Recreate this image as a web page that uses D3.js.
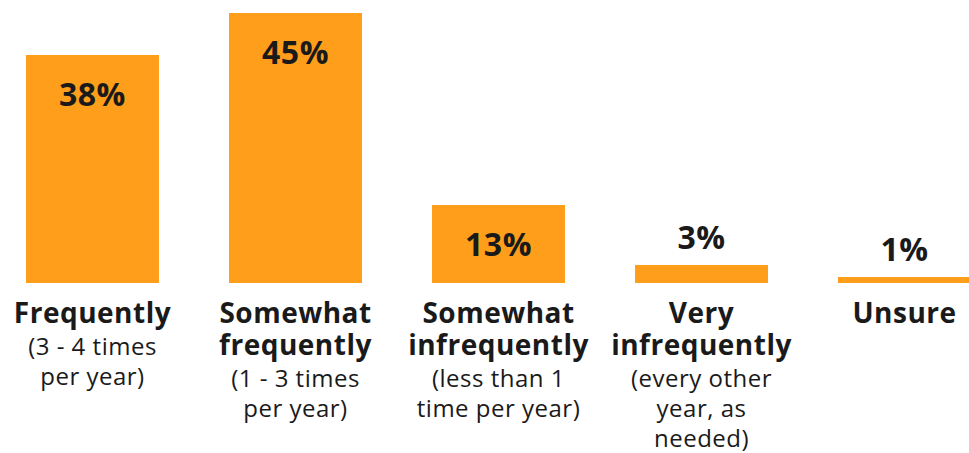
<!DOCTYPE html>
<html>
<head>
<meta charset="utf-8">
<script src="https://cdn.jsdelivr.net/npm/d3@7/dist/d3.min.js"></script>
<style>
  body { margin: 0; background: #fff; }
  svg { display: block; }
  text { font-family: "Open Sans", "Noto Sans", sans-serif; fill: #1a1a1a; }
</style>
</head>
<body>
<div id="chart-area"></div>
<script>
// frequency categories
var categories = ["Frequently", "Somewhat frequently", "Somewhat infrequently", "Very infrequently", "Unsure"];
var values = [38, 45, 13, 3, 1];
// label lines under each bar: bold part, then regular part
var boldLines = [
     ["Frequently"],
     ["Somewhat", "frequently"],
     ["Somewhat", "infrequently"],
     ["Very", "infrequently"],
     ["Unsure"]
];
var subLines = [
     ["(3 - 4 times", "per year)"],
     ["(1 - 3 times", "per year)"],
     ["(less than 1", "time per year)"],
     ["(every other", "year, as", "needed)"],
     []
];

var width = 969, height = 453;
var baseline = 283;

var svg = d3.select("#chart-area").append("svg")
     .attr("width", width)
     .attr("height", height);

var x = d3.scaleBand()
     .domain(categories)
     .range([26, 971])
     .paddingInner(0.345)
     .paddingOuter(0);

var y = d3.scaleLinear()
     .domain([0, 45])
     .range([baseline, 13]);

var data = categories.map((c, i) => {
     return { name: c, value: values[i], bold: boldLines[i], sub: subLines[i] };
});

svg.selectAll("rect")
     .data(data)
     .enter()
     .append("rect")
     .attr("x", (d) => { return x(d.name); })
     .attr("y", (d) => { return y(d.value); })
     .attr("width", x.bandwidth())
     .attr("height", (d) => { return baseline - y(d.value); })
     .attr("fill", "#ff9e1b");

// value labels: inside big bars, above small ones
svg.selectAll(".value")
     .data(data)
     .enter()
     .append("text")
     .attr("class", "value")
     .attr("x", (d) => { return x(d.name) + x.bandwidth() / 2; })
     .attr("y", (d) => { return d.value >= 10 ? y(d.value) + 51 : y(d.value) - 16; })
     .attr("text-anchor", "middle")
     .attr("font-size", 32)
     .attr("font-weight", 700)
     .attr("letter-spacing", 0.5)
     .text((d) => { return d.value + "%"; });

// category labels
var groups = svg.selectAll(".cat")
     .data(data)
     .enter()
     .append("text")
     .attr("class", "cat")
     .attr("text-anchor", "middle");

groups.each(function (d) {
     var t = d3.select(this);
     var cx = x(d.name) + x.bandwidth() / 2;
     var ly = 323;
     d.bold.forEach((s, i) => {
          if (i > 0) ly += 32;
          t.append("tspan")
               .attr("x", cx)
               .attr("y", ly)
               .attr("font-size", 28)
               .attr("font-weight", 700)
               .attr("letter-spacing", 0.5)
               .text(s);
     });
     d.sub.forEach((s, i) => {
          ly += (i === 0) ? 32 : 30;
          t.append("tspan")
               .attr("x", cx)
               .attr("y", ly)
               .attr("font-size", 24)
               .attr("font-weight", 400)
               .attr("letter-spacing", 0.5)
               .text(s);
     });
});
</script>
</body>
</html>
